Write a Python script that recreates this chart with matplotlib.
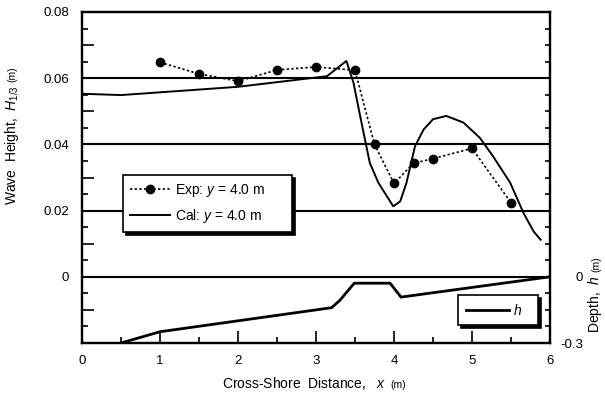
import matplotlib
matplotlib.use("Agg")
import matplotlib.pyplot as plt
from matplotlib.lines import Line2D
from matplotlib.ticker import MultipleLocator, FixedLocator, FuncFormatter
import numpy as np

plt.rcParams['font.family'] = ['Liberation Sans', 'DejaVu Sans']
plt.rcParams['mathtext.fontset'] = 'custom'
plt.rcParams['mathtext.rm'] = 'Liberation Sans'
plt.rcParams['mathtext.it'] = 'Liberation Sans:italic'
plt.rcParams['mathtext.bf'] = 'Liberation Sans:bold'

# Measured significant wave height along the y = 4.0 m section
exp_x = [1.0, 1.5, 2.0, 2.5, 3.0, 3.5, 3.75, 4.0, 4.25, 4.5, 5.0, 5.5]
exp_h = [0.0648, 0.0613, 0.0591, 0.0625, 0.0634, 0.0624, 0.0400, 0.0282,
         0.0343, 0.0357, 0.0388, 0.0224]

# Computed significant wave height along the same section
cal_x = [0.0, 0.5, 2.0, 3.14, 3.39, 3.48, 3.54, 3.61, 3.69, 3.80, 3.99, 4.08,
         4.16, 4.27, 4.38, 4.50, 4.67, 4.89, 5.10, 5.27, 5.49, 5.66, 5.79, 5.88]
cal_h = [0.0553, 0.0549, 0.0574, 0.0606, 0.0652, 0.0587, 0.0516, 0.0435,
         0.0344, 0.0284, 0.0213, 0.0228, 0.0284, 0.0395, 0.0445, 0.0476,
         0.0486, 0.0466, 0.0420, 0.0364, 0.0284, 0.0193, 0.0137, 0.0112]

# Bottom profile (depth, m)
bed_x = [0.5, 1.0, 3.2, 3.31, 3.49, 3.95, 4.09, 6.0]
bed_d = [-0.30, -0.249, -0.14, -0.105, -0.029, -0.029, -0.092, 0.0]

W, H = 605, 394
fig = plt.figure(figsize=(W / 100, H / 100), dpi=100)
L, R, T, B = 82, 550, 12, 343
ax = fig.add_axes([L / W, 1 - B / H, (R - L) / W, (B - T) / H])

# Wave height traces
ax.plot(cal_x, cal_h, color='black', lw=1.4, zorder=4, clip_on=False)
ax.plot(exp_x, exp_h, color='black', lw=1.2, ls=(0, (1.4, 1.4)),
        marker='o', ms=6, zorder=5)

for yv in [0.0, 0.02, 0.04, 0.06]:
    ax.axhline(yv, color='black', lw=1.5, zorder=3)

ax.set_xlim(0, 6)
ax.set_ylim(-0.02, 0.08)
for sp in ax.spines.values():
    sp.set_linewidth(1.6)

ax.xaxis.set_major_locator(MultipleLocator(1))
ax.xaxis.set_minor_locator(MultipleLocator(0.5))
ax.yaxis.set_major_locator(MultipleLocator(0.01))
ax.yaxis.set_minor_locator(MultipleLocator(0.005))


def left_fmt(v, pos):
    k = round(v / 0.02)
    if abs(v - k * 0.02) < 1e-9 and v > -0.01:
        return '0' if k == 0 else '%.2f' % v
    return ''


ax.yaxis.set_major_formatter(FuncFormatter(left_fmt))
ax.tick_params(axis='both', which='major', direction='in', length=8.5,
               width=1.2, labelsize=9.5, colors='black')
ax.tick_params(axis='both', which='minor', direction='in', length=4.3,
               width=1.2)
ax.tick_params(axis='y', which='major', pad=9.4)
ax.tick_params(axis='x', which='major', pad=9.0)
ax.tick_params(right=False, top=False, which='both')

# Depth axis on the right
ax2 = ax.twinx()
ax2.set_ylim(-0.3, 1.2)
ax2.plot(bed_x, bed_d, color='black', lw=2.0, solid_joinstyle='miter')
ax2.yaxis.set_major_locator(FixedLocator(np.arange(-0.3, 1.2001, 0.075)))


def right_fmt(v, pos):
    if abs(v) < 1e-9:
        return '0'
    if abs(v + 0.3) < 1e-9:
        return '-0.3'
    return ''


ax2.yaxis.set_major_formatter(FuncFormatter(right_fmt))
ax2.tick_params(axis='y', direction='in', length=3.8, width=1.2,
                labelsize=9.5, pad=23.8)
for lab in ax2.get_yticklabels():
    lab.set_horizontalalignment('right')
for sp in ax2.spines.values():
    sp.set_linewidth(1.6)

# Legends
h_exp = Line2D([], [], color='black', lw=1.2, ls=(0, (1.4, 1.4)),
               marker='o', ms=6)
h_cal = Line2D([], [], color='black', lw=1.4)
leg1 = ax.legend([h_exp, h_cal],
                 [r'Exp: $y$ = 4.0 m', r'Cal: $y$ = 4.0 m'],
                 loc='upper left', bbox_to_anchor=(0.0876, 0.0, 0.361, 0.508),
                 mode='expand', borderaxespad=0, fontsize=10,
                 handlelength=2.9, handletextpad=0.35, labelspacing=0.6,
                 borderpad=0.5, fancybox=False, frameon=True,
                 shadow={'color': 'black', 'alpha': 1.0})
leg1.get_frame().set_edgecolor('black')
leg1.get_frame().set_linewidth(1.2)
leg1.get_frame().set_alpha(1.0)
leg1.set_zorder(10)

h_bed = Line2D([], [], color='black', lw=2.0)
leg2 = ax2.legend([h_bed], [r'$h$'], loc='upper left',
                  bbox_to_anchor=(0.804, 0.0, 0.171, 0.145), mode='expand',
                  borderaxespad=0, fontsize=10, handlelength=3.1,
                  handletextpad=0.3, borderpad=0.55, fancybox=False,
                  shadow={'color': 'black', 'alpha': 1.0})
leg2.get_frame().set_edgecolor('black')
leg2.get_frame().set_linewidth(1.2)
leg2.get_frame().set_alpha(1.0)


def fx(px):
    return px / W


def fy(py):
    return 1 - py / H


# Axis titles built from pieces so the unit can be set smaller
t_x = fig.text(fx(222), fy(388.5), r'Cross-Shore  Distance,   $x$',
               fontsize=10, ha='left', va='baseline')
t_l = fig.text(fx(12), fy(205), r'Wave  Height,  $H_{1/3}$', fontsize=10,
               rotation=90, ha='center', va='bottom')
t_r = fig.text(fx(595.5), fy(333), r'Depth,  $h$', fontsize=10,
               rotation=90, ha='center', va='bottom')

fig.canvas.draw()
rend = fig.canvas.get_renderer()
inv = fig.transFigure.inverted()

bx = t_x.get_window_extent(rend)
x0 = inv.transform((bx.x1 + 4, 0))[0]
fig.text(x0, fy(388.5), '(m)', fontsize=7.5, ha='left', va='baseline')

bl = t_l.get_window_extent(rend)
y0 = inv.transform((0, bl.y1 + 3))[1]
fig.text(fx(12.5), y0, '(m)', fontsize=7.5, rotation=90, ha='center',
         va='bottom')

br = t_r.get_window_extent(rend)
y0 = inv.transform((0, br.y1 + 3))[1]
fig.text(fx(596), y0, '(m)', fontsize=7.5, rotation=90, ha='center',
         va='bottom')

fig.savefig('out.png', dpi=100)
